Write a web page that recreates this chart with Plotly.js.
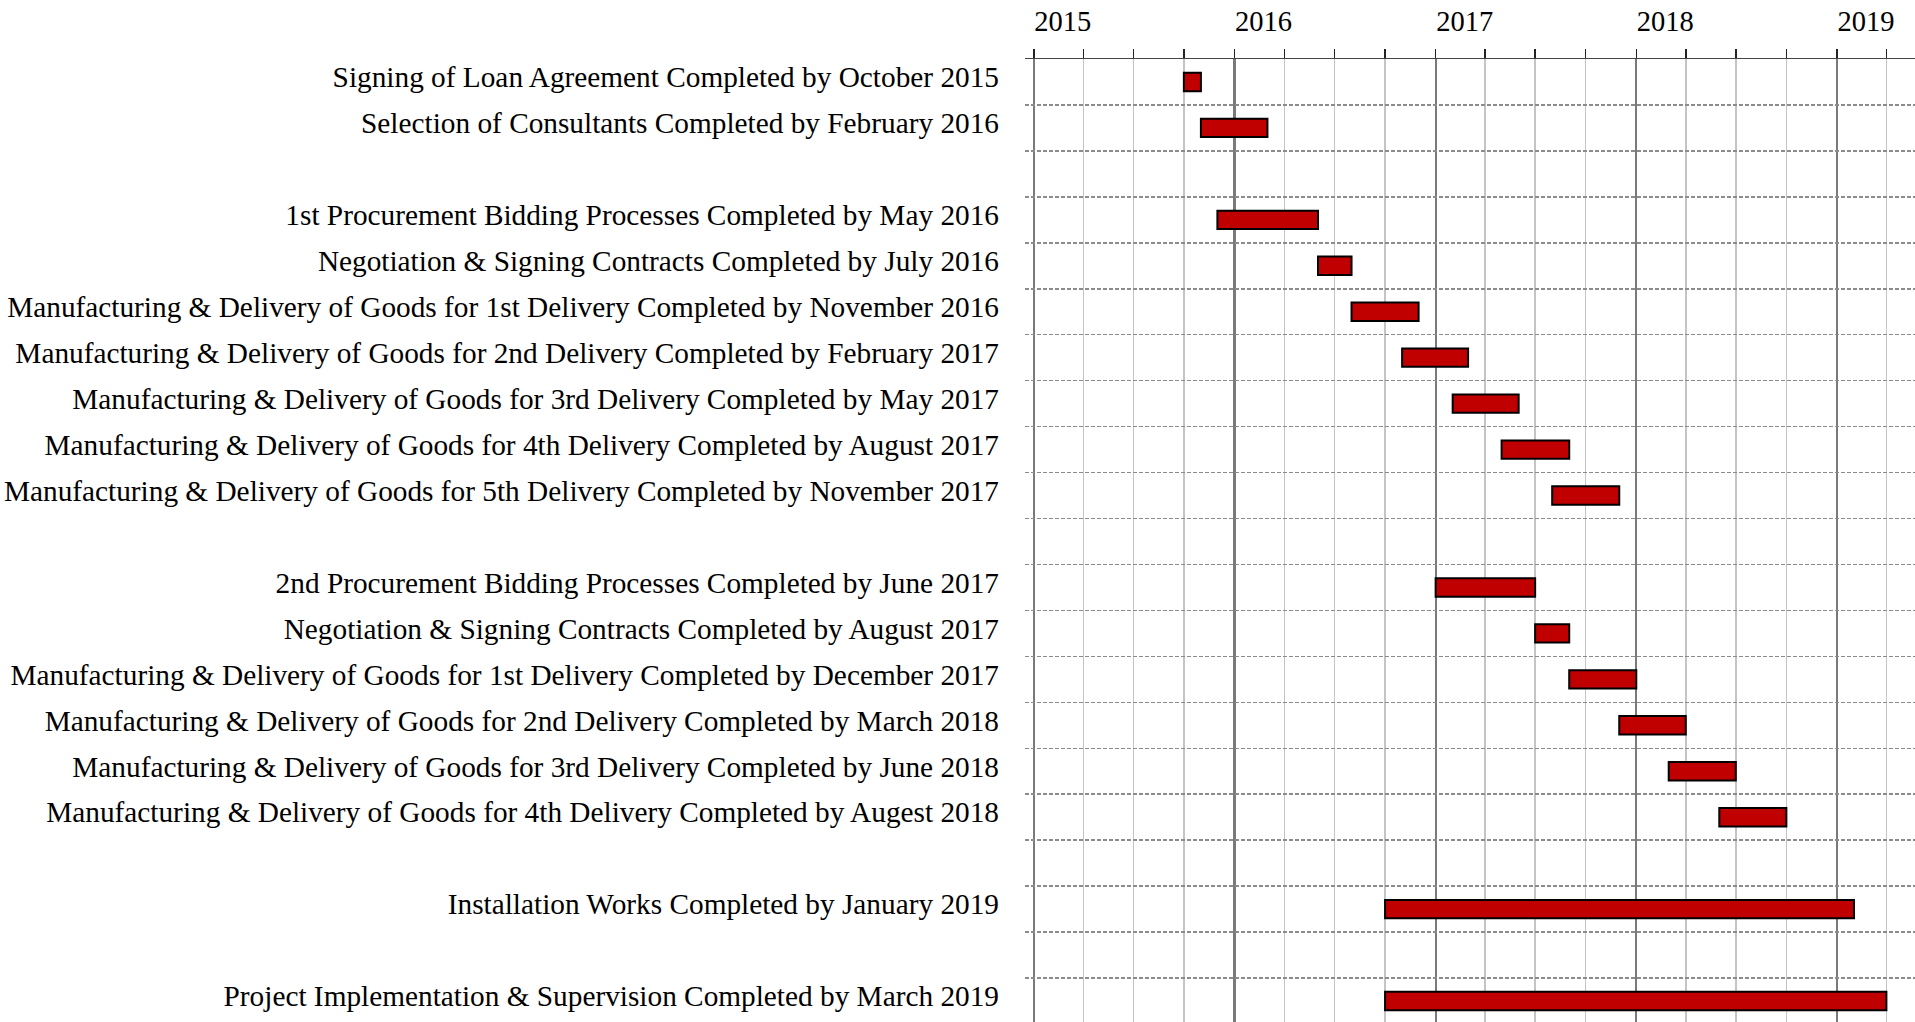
<!DOCTYPE html>
<html>
<head>
<meta charset="utf-8">
<script src="https://cdn.plot.ly/plotly-3.0.1.min.js"></script>
<style>
html, body { margin: 0; padding: 0; background: #fff; }
#chart { width: 1915px; height: 1022px; }
</style>
</head>
<body>
<div id="chart"></div>
<script>
// ---- Data ----
const group1Tasks = [
  "Signing of Loan Agreement Completed by October 2015",
  "Selection of Consultants Completed by February 2016"
];
const group1Start = ["2015-10", "2015-11"];
const group1End   = ["2015-10", "2016-02"];

const group2Tasks = [
  "1st Procurement Bidding Processes Completed by May 2016",
  "Negotiation & Signing Contracts Completed by July 2016",
  "Manufacturing & Delivery of Goods for 1st Delivery Completed by November 2016",
  "Manufacturing & Delivery of Goods for 2nd Delivery Completed by February 2017",
  "Manufacturing & Delivery of Goods for 3rd Delivery Completed by May 2017",
  "Manufacturing & Delivery of Goods for 4th Delivery Completed by August 2017",
  "Manufacturing & Delivery of Goods for 5th Delivery Completed by November 2017"
];
const group2Start = ["2015-12", "2016-06", "2016-08", "2016-11", "2017-02", "2017-05", "2017-08"];
const group2End   = ["2016-05", "2016-07", "2016-11", "2017-02", "2017-05", "2017-08", "2017-11"];

const group3Tasks = [
  "2nd Procurement Bidding Processes Completed by June 2017",
  "Negotiation & Signing Contracts Completed by August 2017",
  "Manufacturing & Delivery of Goods for 1st Delivery Completed by December 2017",
  "Manufacturing & Delivery of Goods for 2nd Delivery Completed by March 2018",
  "Manufacturing & Delivery of Goods for 3rd Delivery Completed by June 2018",
  "Manufacturing & Delivery of Goods for 4th Delivery Completed by Augest 2018"
];
const group3Start = ["2017-01", "2017-07", "2017-09", "2017-12", "2018-03", "2018-06"];
const group3End   = ["2017-06", "2017-08", "2017-12", "2018-03", "2018-06", "2018-09"];

const group4Tasks = ["Installation Works Completed by January 2019"];
const group4Start = ["2016-10"];
const group4End   = ["2019-01"];

const group5Tasks = ["Project Implementation & Supervision Completed by March 2019"];
const group5Start = ["2016-10"];
const group5End   = ["2019-03"];

const yearTickStart = "2015-01-01";
const highlightYear = "2016-01-01";
const xRange = ["2014-12-16", "2019-05-23"];

// ---- Build ----
const groups = [
  [group1Tasks, group1Start, group1End],
  [group2Tasks, group2Start, group2End],
  [group3Tasks, group3Start, group3End],
  [group4Tasks, group4Start, group4End],
  [group5Tasks, group5Start, group5End]
];

function monthStartMs(ym) {
  const [y, m] = ym.split("-").map(Number);
  return Date.UTC(y, m - 1, 1);
}
function nextMonthStartMs(ym) {
  const [y, m] = ym.split("-").map(Number);
  return Date.UTC(y, m, 1);
}

const categories = [];
const ys = [], bases = [], durs = [];
groups.forEach((g, gi) => {
  if (gi > 0) categories.push(" ".repeat(gi)); // blank spacer row
  const [tasks, st, en] = g;
  tasks.forEach((t, i) => {
    categories.push(t);
    ys.push(t);
    const s = monthStartMs(st[i]);
    const e = nextMonthStartMs(en[i]);
    bases.push(new Date(s).toISOString().slice(0, 10));
    durs.push(e - s);
  });
});

const nRows = categories.length;

const trace = {
  type: "bar",
  orientation: "h",
  y: ys,
  x: durs,
  base: bases,
  width: 0.4,
  marker: { color: "#c00000", line: { color: "#000000", width: 2 } },
  hoverinfo: "skip"
};

const layout = {
  width: 1915,
  height: 1022,
  margin: { l: 1025, r: 0, t: 59, b: 0, pad: 0 },
  paper_bgcolor: "#ffffff",
  plot_bgcolor: "#ffffff",
  showlegend: false,
  font: { family: "Liberation Serif, Times New Roman, serif", color: "#000" },
  xaxis: {
    type: "date",
    side: "top",
    range: xRange,
    tick0: yearTickStart,
    dtick: "M12",
    tickformat: "%Y",
    ticks: "outside",
    ticklen: 9,
    tickwidth: 1.5,
    tickcolor: "#222",
    tickfont: { size: 28.5, family: "Liberation Serif", color: "#000" },
    ticklabelshift: 29,
    ticklabelstandoff: 6,
    showline: true,
    linecolor: "#444",
    linewidth: 1.5,
    showgrid: true,
    gridcolor: "#7a7a7a",
    gridwidth: 2.2,
    zeroline: false,
    automargin: false,
    minor: {
      tick0: yearTickStart,
      dtick: "M3",
      ticks: "outside",
      ticklen: 9,
      tickwidth: 1.5,
      tickcolor: "#222",
      showgrid: true,
      gridcolor: "#c4c4c4",
      gridwidth: 1.5
    },
    fixedrange: true
  },
  yaxis: {
    type: "category",
    categoryorder: "array",
    categoryarray: categories,
    range: [nRows - 0.5 - 0.043, -0.5],
    tickson: "boundaries",
    ticks: "",
    showgrid: true,
    gridcolor: "#8c8c8c",
    gridwidth: 1.5,
    griddash: "4px,2px",
    showline: false,
    zeroline: false,
    tickfont: { size: 29.3, family: "Liberation Serif", color: "#000" },
    ticklabelstandoff: 25,
    ticklabelshift: 5,
    automargin: false,
    fixedrange: true
  },
  shapes: [{
    type: "line",
    xref: "x", yref: "paper",
    x0: highlightYear, x1: highlightYear,
    y0: 0, y1: 1,
    line: { color: "#111", width: 1.5 },
    layer: "below"
  }]
};

Plotly.newPlot("chart", [trace], layout, { displayModeBar: false, staticPlot: true });
</script>
</body>
</html>
